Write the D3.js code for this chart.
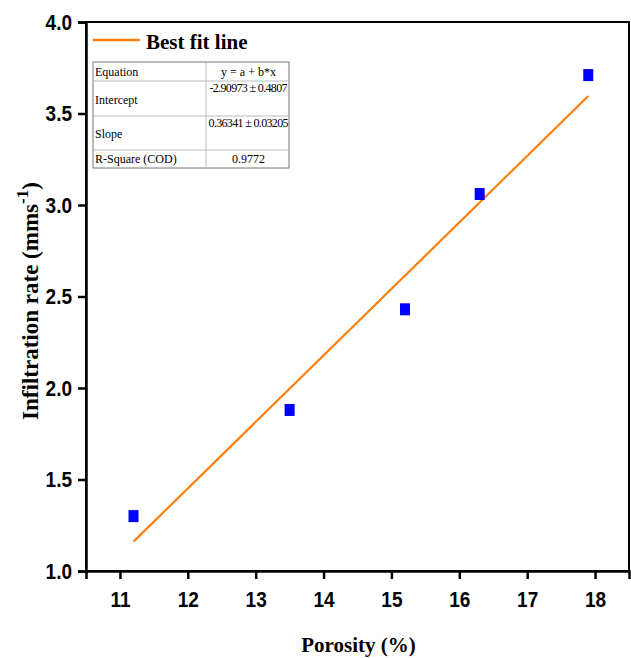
<!DOCTYPE html>
<html>
<head>
<meta charset="utf-8">
<script src="https://cdn.jsdelivr.net/npm/d3@7"></script>
<style>
  html, body { margin: 0; padding: 0; background: #fff; }
  svg { display: block; }
</style>
</head>
<body>
<svg id="chart" width="631" height="658"></svg>
<script>
// Measured samples: porosity (%) vs infiltration rate (mm s^-1)
const porosity = [11.2, 13.5, 15.2, 16.3, 17.9];
const infiltration = [1.30, 1.88, 2.43, 3.06, 3.71];

// Linear fit results
const intercept = -2.90973;
const slope = 0.36341;
const fitRows = [
  ["Equation", "y = a + b*x"],
  ["Intercept", "-2.90973 \u00b1 0.4807"],
  ["Slope", "0.36341 \u00b1 0.03205"],
  ["R-Square (COD)", "0.9772"]
];

const xTicks = [11, 12, 13, 14, 15, 16, 17, 18];
const yTicks = [1.0, 1.5, 2.0, 2.5, 3.0, 3.5, 4.0];

const svg = d3.select("#chart");
const L = 86, R = 629, T = 22, B = 571;

const x = d3.scaleLinear().domain([10.5, 18.5]).range([L, R]);
const y = d3.scaleLinear().domain([1.0, 4.0]).range([B, T]);

const tickFont = "'Liberation Sans', Arial, sans-serif";
const serif = "'Liberation Serif', 'Times New Roman', serif";

// Frame
svg.append("rect")
  .attr("x", L).attr("y", T).attr("width", R - L).attr("height", B - T)
  .attr("fill", "none").attr("stroke", "#000").attr("stroke-width", 2);

// Axes
const xAxis = svg.append("g")
  .attr("transform", `translate(0,${B})`)
  .call(d3.axisBottom(x).tickValues(xTicks).tickSize(8).tickPadding(10).tickFormat(d3.format("d")));
const yAxis = svg.append("g")
  .attr("transform", `translate(${L},0)`)
  .call(d3.axisLeft(y).tickValues(yTicks).tickSize(8).tickPadding(6).tickFormat(d3.format(".1f")));

[xAxis, yAxis].forEach(g => {
  g.select(".domain").attr("stroke", "#000").attr("stroke-width", 2.5);
  g.selectAll(".tick line").attr("stroke", "#000").attr("stroke-width", 2.5);
  g.selectAll(".tick text")
    .attr("fill", "#000")
    .attr("transform", "scale(1,1.15)")
    .style("font-family", tickFont)
    .style("font-weight", "bold")
    .style("font-size", "19px");
});

// Best fit line over the data range
const xr = d3.extent(porosity);
svg.append("line")
  .attr("x1", x(xr[0])).attr("y1", y(intercept + slope * xr[0]))
  .attr("x2", x(xr[1])).attr("y2", y(intercept + slope * xr[1]))
  .attr("stroke", "#ff7f0e").attr("stroke-width", 2.2);

// Data points
svg.append("g").selectAll("rect")
  .data(porosity.map((p, i) => [p, infiltration[i]]))
  .join("rect")
  .attr("x", d => x(d[0]) - 5)
  .attr("y", d => y(d[1]) - 6)
  .attr("width", 10).attr("height", 12)
  .attr("fill", "#0000ff");

// Legend
svg.append("line")
  .attr("x1", 93).attr("x2", 140).attr("y1", 40).attr("y2", 40)
  .attr("stroke", "#ff7f0e").attr("stroke-width", 2.5);
svg.append("text")
  .attr("x", 146).attr("y", 49)
  .style("font-family", serif).style("font-weight", "bold").style("font-size", "21px")
  .text("Best fit line");

// Fit statistics table
const tx0 = 93, tx1 = 206, tx2 = 289;
const rowEdges = [62, 81, 116, 150, 168];
const tbl = svg.append("g");
tbl.append("rect")
  .attr("x", tx0).attr("y", rowEdges[0])
  .attr("width", tx2 - tx0).attr("height", rowEdges[4] - rowEdges[0])
  .attr("fill", "#fff").attr("stroke", "#777").attr("stroke-width", 1);
rowEdges.slice(1, 4).forEach(r => {
  tbl.append("line").attr("x1", tx0).attr("x2", tx2).attr("y1", r).attr("y2", r)
    .attr("stroke", "#bbb").attr("stroke-width", 1);
});
tbl.append("line").attr("x1", tx1).attr("x2", tx1).attr("y1", rowEdges[0]).attr("y2", rowEdges[4])
  .attr("stroke", "#bbb").attr("stroke-width", 1);

fitRows.forEach((row, i) => {
  const top = rowEdges[i], bot = rowEdges[i + 1];
  const mid = (top + bot) / 2;
  const single = i === 0 || i === 3;
  tbl.append("text")
    .attr("x", tx0 + 2).attr("y", single ? mid + 4 : mid + 5)
    .style("font-family", serif).style("font-size", "12px")
    .text(row[0]);
  tbl.append("text")
    .attr("x", (tx1 + tx2) / 2 + 1).attr("y", single ? mid + 4 : top + 11)
    .attr("text-anchor", "middle")
    .attr("textLength", i === 1 ? 78 : i === 2 ? 80 : null)
    .style("font-family", serif).style("font-size", "12px")
    .text(row[1]);
});

// Axis titles
svg.append("text")
  .attr("x", (L + R) / 2 + 1).attr("y", 652)
  .attr("text-anchor", "middle")
  .style("font-family", serif).style("font-weight", "bold").style("font-size", "21px")
  .text("Porosity (%)");

const yl = svg.append("text")
  .attr("transform", `translate(38,301) rotate(-90)`)
  .attr("text-anchor", "middle")
  .style("font-family", serif).style("font-weight", "bold").style("font-size", "23px");
yl.append("tspan").text("Infiltration rate (mms");
yl.append("tspan").attr("dy", -10).style("font-size", "17px").text("-1");
yl.append("tspan").attr("dy", 10).text(")");
</script>
</body>
</html>
